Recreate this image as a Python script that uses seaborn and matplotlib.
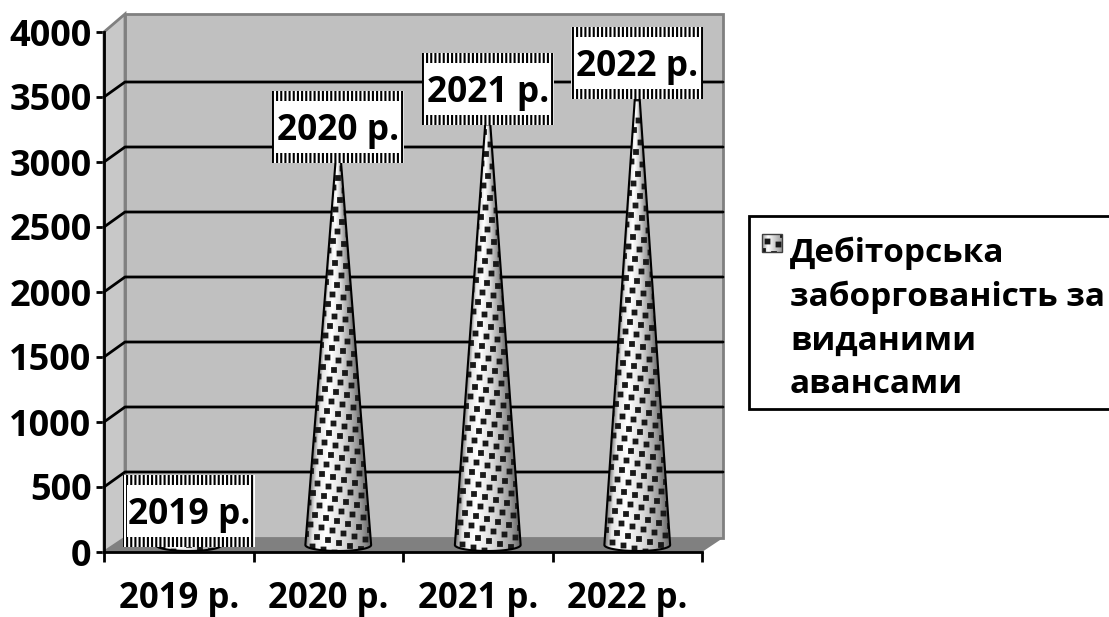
import numpy as np
import pandas as pd
import matplotlib
matplotlib.use("Agg")
import matplotlib.pyplot as plt
import seaborn as sns
from matplotlib.patches import Polygon, Rectangle, Patch
from matplotlib.transforms import Affine2D

years = ["2019 р.", "2020 р.", "2021 р.", "2022 р."]
values = [260, 3215, 3508, 3708]
y_ticks = [0, 500, 1000, 1500, 2000, 2500, 3000, 3500, 4000]
series_name = "Дебіторська\nзаборгованість за\nвиданими\nавансами"

W, H = 1109, 617
FONT = ["Open Sans", "DejaVu Sans"]

sns.set_theme(style="white")
plt.rcParams["font.family"] = FONT
plt.rcParams["hatch.linewidth"] = 1.5
plt.rcParams["text.color"] = "black"

# image pixel coords -> display
PX = Affine2D().scale(1, -1).translate(0, H)


def dot_pattern(xs, ys, shade):
    # axis aligned squares sitting on a slanted lattice
    basis = np.array([[11.0, -4.5], [3.0, 9.5]])
    inv = np.linalg.inv(basis)
    n1 = np.round(inv[0, 0] * xs + inv[0, 1] * ys)
    n2 = np.round(inv[1, 0] * xs + inv[1, 1] * ys)
    ddx = xs - (basis[0, 0] * n1 + basis[0, 1] * n2)
    ddy = ys - (basis[1, 0] * n1 + basis[1, 1] * n2)
    m = np.clip(3.4 - np.abs(ddx), 0, 1) * np.clip(3.4 - np.abs(ddy), 0, 1)
    return shade * (1 - m) + 0.1 * m


def cone_image(cx, tip_y, base_y, half_w):
    l, r = int(cx - half_w - 3), int(cx + half_w + 3)
    t, b = int(tip_y - 2), int(base_y + 12)
    xs, ys = np.meshgrid(np.arange(l, r) + 0.5, np.arange(t, b) + 0.5)
    hw = np.maximum((ys - tip_y) / max(base_y - tip_y, 1) * half_w, 1)
    hw = np.minimum(hw, half_w)
    shade = np.interp((xs - cx) / hw, [-1, -0.8, -0.4, 0.2, 0.75, 1], [0.45, 0.9, 1, 0.85, 0.6, 0.4])
    return dot_pattern(xs, ys, shade), (l, r, b, t)


fig = plt.figure(figsize=(W / 100, H / 100), dpi=100)
ax = fig.add_axes([104 / W, 1 - 552 / H, (702 - 104) / W, (552 - 32) / H])

df = pd.DataFrame({"year": years, "value": values})
sns.barplot(data=df, x="year", y="value", color="white", width=0.44, ax=ax)
ax.set_xlim(-0.5, 3.5)
ax.set_ylim(0, 4000)
ax.set_xlabel("")
ax.set_ylabel("")
ax.set_facecolor("none")
sns.despine(ax=ax)
for s in ["left", "bottom"]:
    ax.spines[s].set_color("black")
    ax.spines[s].set_linewidth(2)
    ax.spines[s].set_zorder(8)

ax.set_yticks(y_ticks)
ax.set_yticklabels(y_ticks, fontsize=26, fontweight="bold", color="black")
ax.tick_params(axis="y", left=True, length=6, width=2, color="black", pad=3)
ax.set_xticks(range(len(years)))
ax.set_xticklabels(years, fontsize=25, fontweight="bold", color="black")
ax.set_xticks([-0.5, 0.5, 1.5, 2.5, 3.5], minor=True)
ax.tick_params(axis="x", which="major", bottom=False, pad=15)
ax.tick_params(axis="x", which="minor", bottom=True, length=7, width=2, color="black")

# 3d box around the plot
dx, dy = 21, 14
x0, y0 = 104, 552
x1, y1 = 702, 32


def py(v):
    return H - ax.transData.transform((0, v))[1]


wall_kw = dict(transform=PX, clip_on=False)
ax.add_patch(Rectangle((x0 + dx, y1 - dy - 4), x1 - x0, y0 - y1 + 4, fc="#c0c0c0", ec="#808080", lw=2, zorder=1, **wall_kw))
ax.add_patch(Polygon([(x0, y0), (x0, y1), (x0 + dx, y1 - 18), (x0 + dx, y0 - dy)], fc="#c8c8c8", ec="#808080", lw=2, zorder=1, **wall_kw))
ax.add_patch(Polygon([(x0, y0), (x1, y0), (x1 + dx, y0 - dy), (x0 + dx, y0 - dy)], fc="#808080", ec="none", zorder=1.5, **wall_kw))
for v in y_ticks[1:-1]:
    p = py(v)
    ax.plot([x0, x0 + dx, x1 + dx], [p, p - dy - 1, p - dy - 1], color="black", lw=2, zorder=2, transform=PX, clip_on=False)

# swap the bars for cones, labels go on the tips
for bar, name in zip(list(ax.patches), years):
    (l_d, tip_d), (r_d, _) = ax.transData.transform([(bar.get_x(), bar.get_height()), (bar.get_x() + bar.get_width(), 0)])
    cx = (l_d + r_d) / 2 + 10
    half_w = (r_d - l_d) / 2
    base_y = y0 - 7
    tip_y = H - tip_d - 7
    bar.remove()

    arc = np.linspace(np.pi, 0, 30)
    outline = [(cx + half_w * np.cos(t), base_y + 6 * np.sin(t)) for t in arc]
    outline.append((cx, tip_y))
    cone = Polygon(outline, closed=True, fc="none", ec="black", lw=1.5, zorder=4, transform=PX, clip_on=False)
    ax.add_patch(cone)
    img, ext = cone_image(cx, tip_y, base_y, half_w)
    im = ax.imshow(img, cmap="gray", vmin=0, vmax=1, extent=ext, transform=PX, aspect="auto", zorder=3, interpolation="bilinear")
    im.set_clip_path(cone)

    box_w, box_h = 132, 72
    ax.add_patch(Rectangle((cx - box_w / 2, tip_y - box_h / 2), box_w, box_h, fc="white", ec="black", lw=0, hatch="||||", zorder=6, **wall_kw))
    ax.add_patch(Rectangle((cx - box_w / 2 + 4, tip_y - box_h / 2 + 10), box_w - 8, box_h - 20, fc="white", ec="none", zorder=6.5, **wall_kw))
    ax.text(cx, tip_y + 4, name, ha="center", va="center", fontsize=25.5, fontweight="bold", color="black", zorder=7, transform=PX, clip_on=False)

# legend box runs off the right edge
fig.add_artist(Rectangle((749, 216), 380, 193, fc="white", ec="black", lw=2, transform=PX, zorder=-1))
swatch = Patch(facecolor="white", edgecolor="black", label=series_name)
leg = fig.legend(handles=[swatch], loc="upper left", bbox_to_anchor=(761 / W, 1 - 237 / H), frameon=False,
                 prop={"family": FONT, "size": 24, "weight": "bold"}, labelcolor="black", handlelength=0.62, handleheight=0.62,
                 handletextpad=0.25, borderpad=0, borderaxespad=0)
leg.get_texts()[0].set_linespacing(1.42)
leg.legend_handles[0].set_alpha(0)
sx, sy = np.meshgrid(np.arange(762, 782) + 0.5, np.arange(234, 252) + 0.5)
sw_img = dot_pattern(sx, sy, np.interp(sx, [762, 768, 782], [0.6, 1, 0.6]))
sw = ax.imshow(sw_img, cmap="gray", vmin=0, vmax=1, extent=(762, 782, 252, 234), transform=PX, aspect="auto", zorder=10, clip_on=False)
ax.add_patch(Rectangle((762, 234), 20, 18, fc="none", ec="#404040", lw=1, zorder=10.5, **wall_kw))

ax.set_xlim(-0.5, 3.5)
ax.set_ylim(0, 4000)

fig.savefig("out.png", dpi=100)
